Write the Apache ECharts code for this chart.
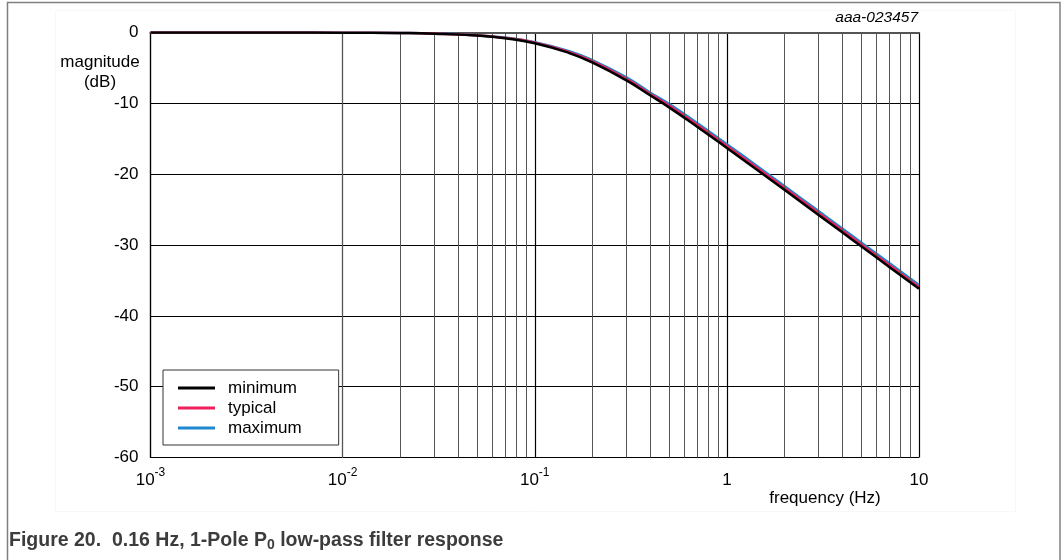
<!DOCTYPE html>
<html>
<head>
<meta charset="utf-8">
<script src="https://cdn.jsdelivr.net/npm/echarts@6/dist/echarts.min.js"></script>
<style>
html,body{margin:0;padding:0;background:#fff;}
#c{width:1063px;height:560px;}
</style>
</head>
<body>
<div id="c"></div>
<script>
// frequency points (Hz)
var freqHz = [0.001, 0.005, 0.01, 0.02, 0.03, 0.05, 0.07, 0.1, 0.15, 0.2, 0.3, 0.4, 0.5, 0.7, 1, 1.5, 2, 3, 4, 5, 7, 10];
// magnitude (dB)
var minimumDb = [0, 0, -0.02, -0.07, -0.16, -0.43, -0.81, -1.51, -2.87, -4.26, -6.76, -8.9, -10.57, -13.3, -16.3, -19.76, -22.24, -25.75, -28.25, -30.18, -33.1, -36.19];
var typicalDb = [0, 0, -0.02, -0.07, -0.15, -0.4, -0.76, -1.43, -2.74, -4.09, -6.55, -8.7, -10.32, -13.04, -16.03, -19.49, -21.97, -25.47, -27.96, -29.9, -32.82, -35.92];
var maximumDb = [0, 0, -0.02, -0.06, -0.14, -0.38, -0.72, -1.36, -2.62, -3.93, -6.34, -8.5, -10.08, -12.79, -15.77, -19.22, -21.7, -25.21, -27.7, -29.64, -32.55, -35.65];
var seriesNames = ['minimum', 'typical', 'maximum'];
// tick labels
var xTickValues = [0.001, 0.01, 0.1, 1, 10];
var xTickLabels = ['{b|10}{sup|-3}', '{b|10}{sup|-2}', '{b|10}{sup|-1}', '{b|1}', '{b|10}'];
var xMinorValues = [0.002,0.003,0.004,0.005,0.006,0.007,0.008,0.009,
                    0.02,0.03,0.04,0.05,0.06,0.07,0.08,0.09,
                    0.2,0.3,0.4,0.5,0.6,0.7,0.8,0.9,
                    2,3,4,5,6,7,8,9];
var yTicks = [-60, -50, -40, -30, -20, -10, 0];

function pairs(ys){ return freqHz.map(function(f,i){ return [f, ys[i]]; }); }

var FONT = '"Liberation Sans", Arial, sans-serif';
var chart = echarts.init(document.getElementById('c'), null, {renderer:'canvas'});
chart.setOption({
  animation: false,
  backgroundColor: '#fff',
  textStyle: {fontFamily: FONT},
  grid: {left: 150.5, right: 144, top: 32.5, bottom: 102.5, containLabel: false},
  xAxis: {
    type: 'log', logBase: 10, min: 0.001, max: 10,
    axisLine: {show: true, lineStyle: {color: '#555', width: 2}},
    axisTick: {show: false},
    splitLine: {show: true, lineStyle: {color: '#000', width: 1.2}},
    axisLabel: {
      margin: 9,
      formatter: function(v){
        var i = xTickValues.findIndex(function(t){ return Math.abs(Math.log10(t) - Math.log10(v)) < 1e-6; });
        return i >= 0 ? xTickLabels[i] : '';
      },
      rich: {
        b: {fontSize: 17, color: '#000', fontFamily: FONT, lineHeight: 22, verticalAlign: 'bottom'},
        sup: {fontSize: 12, color: '#000', fontFamily: FONT, lineHeight: 22, verticalAlign: 'top', padding: [0,0,0,0]}
      }
    }
  },
  yAxis: {
    type: 'value', min: -60, max: 0, interval: 10,
    axisLine: {show: true, lineStyle: {color: '#000', width: 1.2}},
    axisTick: {show: false},
    splitLine: {show: true, lineStyle: {color: '#000', width: 1.2}},
    axisLabel: {
      margin: 12, fontSize: 17, color: '#000', fontFamily: FONT,
      formatter: function(v){ return yTicks.indexOf(v) >= 0 ? String(v) : ''; }
    }
  },
  legend: {
    data: seriesNames,
    orient: 'vertical',
    left: 163, top: 370,
    padding: [8, 37, 7, 15],
    itemGap: 0,
    icon: 'rect',
    itemWidth: 37, itemHeight: 3,
    backgroundColor: '#fff',
    borderColor: '#333', borderWidth: 1,
    textStyle: {fontSize: 17, color: '#000', fontFamily: FONT, lineHeight: 20, padding: [0,0,0,8]}
  },
  series: [
    {
      name: 'gridMinor', type: 'line', data: [], silent: true,
      markLine: {
        silent: true, symbol: 'none', label: {show: false},
        lineStyle: {color: '#555', width: 1, type: 'solid'},
        data: xMinorValues.map(function(v){ return {xAxis: v}; })
      }
    },
    {name: 'maximum', type: 'line', data: pairs(maximumDb), smooth: true, symbol: 'none', showSymbol: false,
     lineStyle: {color: '#1e88d0', width: 2.5}, itemStyle: {color: '#1e88d0'}, z: 3},
    {name: 'typical', type: 'line', data: pairs(typicalDb), smooth: true, symbol: 'none', showSymbol: false,
     lineStyle: {color: '#ee1f5a', width: 2.5}, itemStyle: {color: '#ee1f5a'}, z: 4},
    {name: 'minimum', type: 'line', data: pairs(minimumDb), smooth: true, symbol: 'none', showSymbol: false,
     lineStyle: {color: '#000', width: 2.5}, itemStyle: {color: '#000'}, z: 5}
  ],
  graphic: [
    {type: 'rect', shape: {x: 7.5, y: 2.5, width: 1052.5, height: 570}, style: {fill: 'none', stroke: '#808080', lineWidth: 1.5}, silent: true, z: 100},
    {type: 'rect', shape: {x: 55.5, y: 10.5, width: 960, height: 501}, style: {fill: 'none', stroke: '#f8f8f8', lineWidth: 1}, silent: true, z: -1},
    {type: 'text', x: 100, y: 62, style: {text: 'magnitude', font: '17px ' + FONT, fill: '#000', textAlign: 'center', textVerticalAlign: 'middle'}},
    {type: 'text', x: 100, y: 82, style: {text: '(dB)', font: '17px ' + FONT, fill: '#000', textAlign: 'center', textVerticalAlign: 'middle'}},
    {type: 'text', x: 825, y: 498, style: {text: 'frequency (Hz)', font: '17px ' + FONT, fill: '#000', textAlign: 'center', textVerticalAlign: 'middle'}},
    {type: 'text', x: 918, y: 18, style: {text: 'aaa-023457', font: 'italic 15.5px ' + FONT, fill: '#000', textAlign: 'right', textVerticalAlign: 'middle'}},
    {type: 'text', x: 9, y: 541,
     style: {
       text: '{c|Figure 20.  0.16 Hz, 1-Pole P}{s|0}{c| low-pass filter response}',
       textVerticalAlign: 'middle', textAlign: 'left',
       rich: {
         c: {font: 'bold 19.5px ' + FONT, fill: '#3c3c3c', lineHeight: 26, verticalAlign: 'middle'},
         s: {font: 'bold 14px ' + FONT, fill: '#3c3c3c', lineHeight: 26, verticalAlign: 'bottom', padding: [0,0,2,0]}
       }
     }}
  ]
});
</script>
</body>
</html>
